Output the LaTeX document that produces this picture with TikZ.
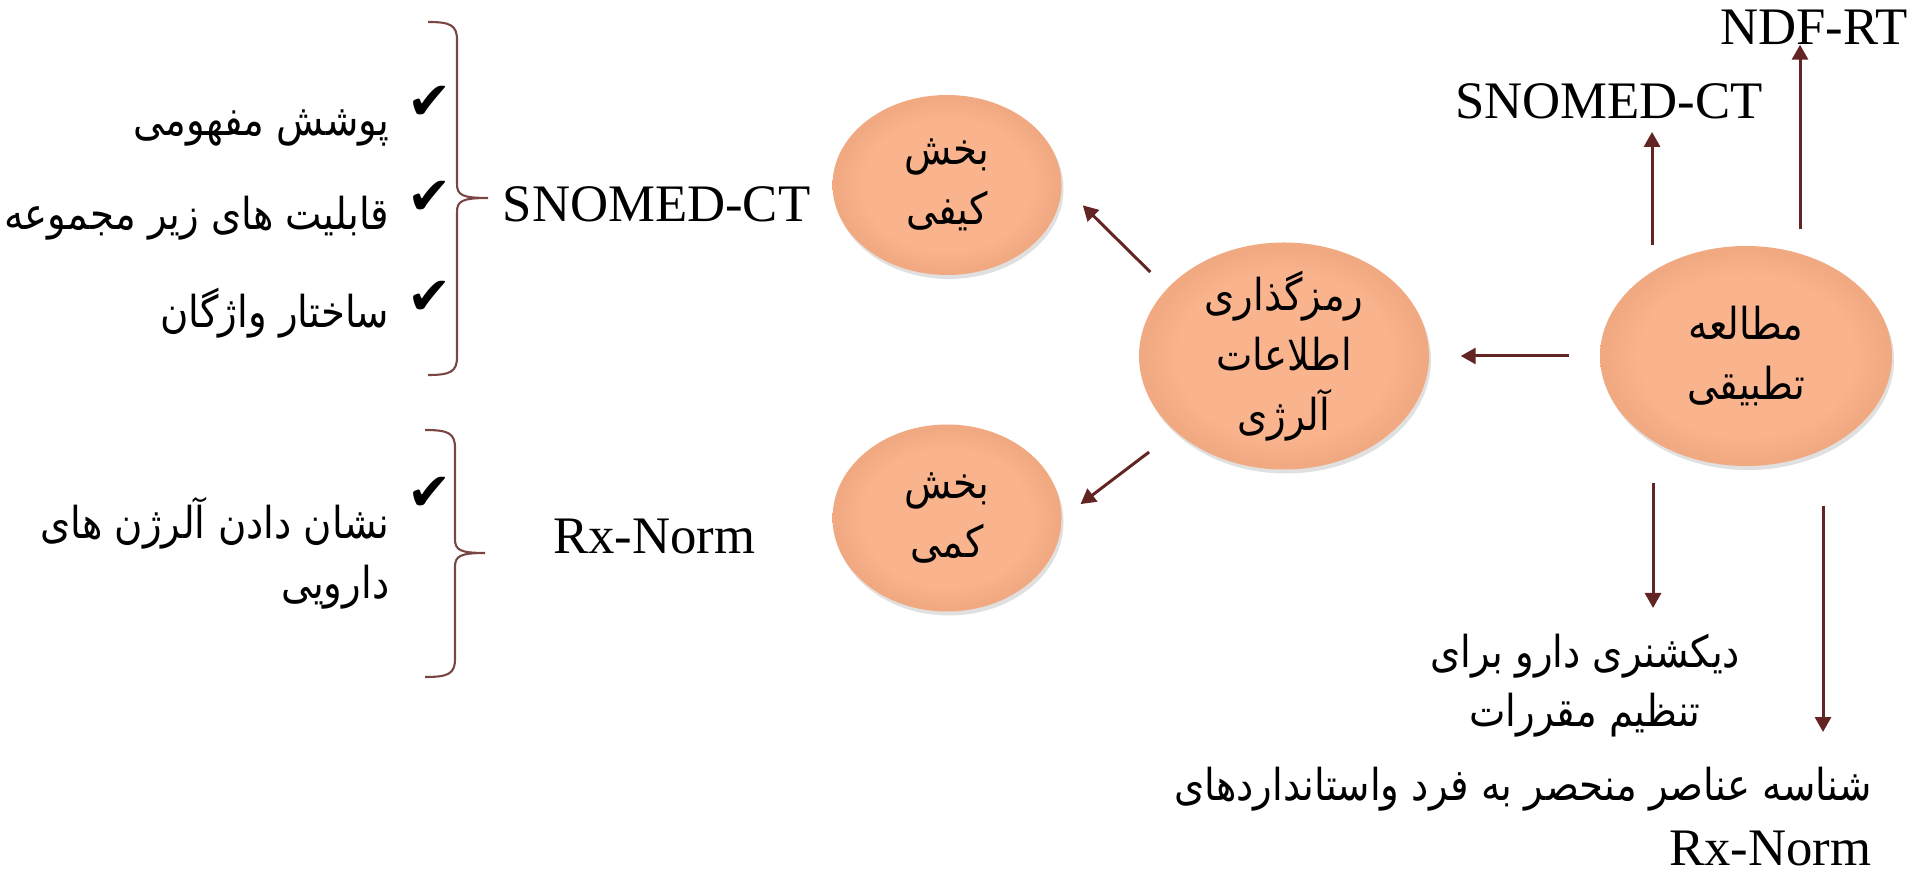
\documentclass[tikz,border=0pt]{standalone}
\usepackage{fontspec}
\setmainfont{Liberation Serif}
\newfontfamily\farsi[Script=Arabic,FakeStretch=0.88]{DejaVu Sans}
\newfontfamily\symfont{DejaVu Sans}
\TeXXeTstate=1
\usetikzlibrary{arrows.meta,shapes.geometric,shadows}
\definecolor{peach}{HTML}{F9B48E}
\definecolor{peachrim}{HTML}{F1A982}
\definecolor{wine}{HTML}{632523}
\pgfdeclareradialshading{eggshade}{\pgfpoint{0bp}{0bp}}{color(0bp)=(peach); color(18bp)=(peach); color(24bp)=(peachrim); color(25bp)=(peachrim); color(50bp)=(peachrim)}
\newcommand{\fa}[1]{{\farsi\beginR #1\endR}}
\tikzset{
    egg/.style={ellipse, shading=eggshade, inner xsep=0pt, inner ysep=-0.05cm, align=center,
        drop shadow={shadow xshift=0.02cm, shadow yshift=-0.04cm, opacity=0.12, fill=black},
        font=\farsi\fontsize{12.5}{17}\selectfont},
    arr/.style={wine, line width=0.85pt, -{Triangle[length=0.15cm,width=0.16cm]}},
    curly/.style={wine!85, line width=0.6pt},
    lbl/.style={font=\fontsize{15}{18}\selectfont, inner sep=0.12cm},
    item/.style={font=\farsi\fontsize{12.5}{17}\selectfont, anchor=east, inner sep=0pt},
    tick/.style={font=\symfont\fontsize{15}{15}\selectfont, inner sep=0pt},
}
\begin{document}
\begin{tikzpicture}
    \useasboundingbox (0,0) rectangle (19.15,-8.73);

    % ellipses
    \node[egg, minimum width=2.29cm, minimum height=1.80cm] (kayfi) at (9.47,-1.85) {\fa{بخش}\\\fa{کیفی}};
    \node[egg, minimum width=2.29cm, minimum height=1.87cm] (kammi) at (9.47,-5.18) {\fa{بخش}\\\fa{کمی}};
    \node[egg, minimum width=2.90cm, minimum height=2.27cm] (coding) at (12.84,-3.56) {\fa{رمزگذاری}\\\fa{اطلاعات}\\\fa{آلرژی}};
    \node[egg, minimum width=2.92cm, minimum height=2.20cm] (study) at (17.46,-3.56) {\fa{مطالعه}\\\fa{تطبیقی}};

    % labels
    \node[lbl] (snomedL) at (6.565,-2.04) {SNOMED-CT};
    \node[lbl] (rxL) at (6.545,-5.37) {Rx-Norm};
    \node[lbl] (snomedR) at (16.09,-1.015) {SNOMED-CT};
    \node[lbl] (ndf) at (18.14,-0.275) {NDF-RT};
    \node[align=center, inner sep=0pt, anchor=north, font=\farsi\fontsize{12.5}{17}\selectfont] (dict) at (15.85,-6.33)
        {\fa{دیکشنری دارو برای}\\\fa{تنظیم مقررات}};
    \node[align=right, inner sep=0pt, anchor=north east, font=\fontsize{15}{18.5}\selectfont] (ident) at (18.72,-7.66)
        {{\farsi\fontsize{12.5}{18.5}\selectfont\beginR شناسه عناصر منحصر به فرد واستانداردهای\endR}\\Rx-Norm};

    % lists
    \node[item] (it1) at (3.90,-1.28) {\fa{پوشش مفهومی}};
    \node[item] (it2) at (3.90,-2.18) {\fa{قابلیت های زیر مجموعه}};
    \node[item] (it3) at (3.90,-3.13) {\fa{ساختار واژگان}};
    \node[item, anchor=north east, align=right] (it4) at (3.90,-4.97) {\fa{نشان دادن آلرژن های}\\\fa{دارویی}};
    \foreach \y [count=\i] in {1.03,1.98,2.98,4.94}
    {
        \node[tick] (chk\i) at (4.30,-\y) {✔};
    }

    % braces
    \draw[curly] (4.28,-0.22) .. controls (4.50,-0.22) and (4.57,-0.25) .. (4.57,-0.40) -- (4.57,-1.84)
        .. controls (4.57,-1.95) and (4.62,-1.98) .. (4.88,-1.98)
        .. controls (4.62,-1.98) and (4.57,-2.01) .. (4.57,-2.12) -- (4.57,-3.57)
        .. controls (4.57,-3.72) and (4.50,-3.75) .. (4.28,-3.75);
    \draw[curly] (4.25,-4.30) .. controls (4.48,-4.30) and (4.55,-4.33) .. (4.55,-4.48) -- (4.55,-5.39)
        .. controls (4.55,-5.50) and (4.60,-5.53) .. (4.85,-5.53)
        .. controls (4.60,-5.53) and (4.55,-5.56) .. (4.55,-5.67) -- (4.55,-6.59)
        .. controls (4.55,-6.74) and (4.48,-6.77) .. (4.25,-6.77);

    % arrows
    \draw[arr, shorten <=0.23cm, shorten >=0.29cm] (coding.150) -- (kayfi.east);
    \draw[arr, shorten <=0.33cm, shorten >=0.23cm] (coding.215) -- (kammi.east);
    \draw[arr, shorten <=0.30cm, shorten >=0.31cm] (study.west) -- (coding.east);
    \draw[arr] ([xshift=-9.4mm]study.north) -- ([xshift=-9.4mm]study.north |- snomedR.south);
    \draw[arr] ([xshift=5.4mm,yshift=1.6mm]study.north) -- ([xshift=5.4mm]study.north |- ndf.base);
    \draw[arr, shorten >=0.25cm] ([xshift=-9.3mm,yshift=-1.6mm]study.south) -- ([xshift=-9.3mm]study.south |- dict.north);
    \draw[arr, shorten >=0.34cm] ([xshift=7.7mm,yshift=-3.9mm]study.south) -- ([xshift=7.7mm]study.south |- ident.north);
\end{tikzpicture}
\end{document}
